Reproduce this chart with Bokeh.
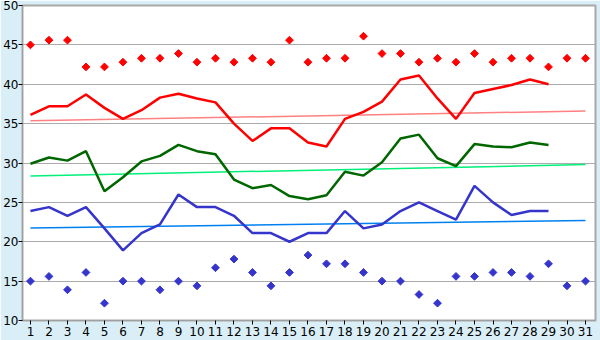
import math
from bokeh.plotting import figure
from bokeh.models import Range1d, FixedTicker
from bokeh.embed import file_html
from bokeh.resources import INLINE

days = list(range(1, 32))
line_days = list(range(1, 30))

high_line = [36.1, 37.2, 37.2, 38.7, 37.0, 35.6, 36.7, 38.3, 38.8, 38.2,
             37.7, 35.0, 32.8, 34.4, 34.4, 32.6, 32.1, 35.6, 36.5, 37.8,
             40.6, 41.1, 38.2, 35.6, 38.9, 39.4, 39.9, 40.6, 40.0]
mid_line = [29.9, 30.7, 30.3, 31.5, 26.4, 28.2, 30.2, 30.9, 32.3, 31.5,
            31.1, 27.9, 26.8, 27.2, 25.8, 25.4, 25.9, 28.9, 28.4, 30.1,
            33.1, 33.6, 30.6, 29.6, 32.4, 32.1, 32.0, 32.6, 32.3]
low_line = [23.9, 24.4, 23.3, 24.4, 21.7, 18.9, 21.1, 22.2, 26.0, 24.4,
            24.4, 23.3, 21.1, 21.1, 20.0, 21.1, 21.1, 23.9, 21.7, 22.2,
            23.9, 25.0, 23.9, 22.8, 27.1, 25.0, 23.4, 23.9, 23.9]

record_high = [45.0, 45.6, 45.6, 42.2, 42.2, 42.8, 43.3, 43.3, 43.9, 42.8,
               43.3, 42.8, 43.3, 42.8, 45.6, 42.8, 43.3, 43.3, 46.1, 43.9,
               43.9, 42.8, 43.3, 42.8, 43.9, 42.8, 43.3, 43.3, 42.2, 43.3, 43.3]
record_low = [15.0, 15.6, 13.9, 16.1, 12.2, 15.0, 15.0, 13.9, 15.0, 14.4,
              16.7, 17.8, 16.1, 14.4, 16.1, 18.3, 17.2, 17.2, 16.1, 15.0,
              15.0, 13.3, 12.2, 15.6, 15.6, 16.1, 16.1, 15.6, 17.2, 14.4, 15.0]

trend_days = [1, 31]
trend_high = [35.35, 36.6]
trend_mid = [28.35, 29.8]
trend_low = [21.75, 22.7]

y_ticks = [10, 15, 20, 25, 30, 35, 40, 45, 50]

p = figure(width=600, height=340, output_backend="svg", toolbar_location=None,
           x_range=Range1d(0.57, 31.54), y_range=Range1d(10, 50),
           min_border_left=21, min_border_right=5, min_border_top=5,
           min_border_bottom=20)

p.background_fill_color = "white"
p.border_fill_color = "#D9EEF6"
p.outline_line_color = "#A8A8A8"
p.outline_line_width = 2

p.xgrid.grid_line_color = None
p.ygrid.grid_line_color = "#ABABAB"
p.ygrid.grid_line_width = 1

for ax in (p.xaxis[0], p.yaxis[0]):
    ax.major_label_text_font = "DejaVu Sans"
    ax.major_label_text_font_size = "12px"
    ax.major_label_text_color = "#000000"
    ax.major_tick_line_color = "#000000"
    ax.major_tick_in = 0
    ax.major_tick_out = 4
    ax.minor_tick_line_color = None
    ax.axis_line_color = "#A0A0A0"

p.yaxis[0].ticker = FixedTicker(ticks=y_ticks)
p.yaxis[0].major_label_standoff = 0
p.xaxis[0].ticker = FixedTicker(ticks=days)
p.xaxis[0].major_label_standoff = 2

# trend lines
p.line(trend_days, trend_high, color="#FF8080", line_width=1.5)
p.line(trend_days, trend_mid, color="#00F07A", line_width=1.5)
p.line(trend_days, trend_low, color="#0080F0", line_width=1.5)

# main lines
p.line(line_days, high_line, color="#FF0000", line_width=2.5)
p.line(line_days, mid_line, color="#006600", line_width=2.5)
p.line(line_days, low_line, color="#3535CC", line_width=2.5)

# record points
p.scatter(days, record_high, marker="square", angle=math.pi / 4, size=5.5,
          color="#FF0000")
p.scatter(days, record_low, marker="square", angle=math.pi / 4, size=5.5,
          color="#3535CC")

open("out.html", "w").write(file_html(p, INLINE))
